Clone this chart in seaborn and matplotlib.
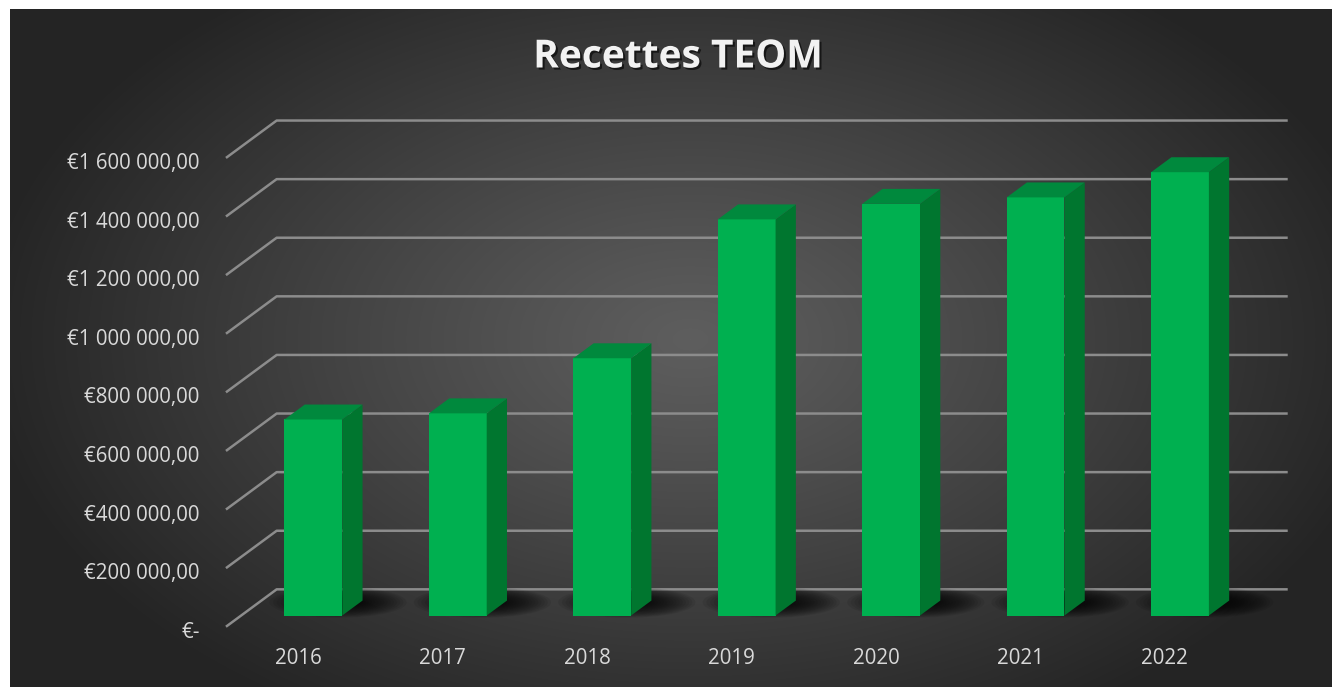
import numpy as np
import pandas as pd
import matplotlib
matplotlib.use("Agg")
import matplotlib.pyplot as plt
import matplotlib.patheffects as pe
from matplotlib.patches import Polygon, Ellipse
import seaborn as sns

# data
years = ["2016", "2017", "2018", "2019", "2020", "2021", "2022"]
recettes = [669000, 690000, 878000, 1352000, 1405000, 1427000, 1513000]
y_ticks = [0, 200000, 400000, 600000, 800000, 1000000, 1200000, 1400000, 1600000]

title = "Recettes TEOM"

green_front = "#00b050"
green_top = "#00893d"
green_side = "#00762f"
grid_col = "#8c8c8c"
txt_col = "#d9d9d9"

# oblique 3d projection in data units (depth goes from 0 = front to 1 = back wall)
DX = 0.351        # category units per full depth
DY = 127600.0     # value units per full depth
D_FRONT, D_BACK = 0.3, 0.7   # bar depth span
BAR_W = 0.4


def proj(x, y, d):
    return (x + (d - D_FRONT) * DX, y + (d - D_FRONT) * DY)


sns.set_theme(style="white")
plt.rcParams["font.family"] = ["Open Sans", "DejaVu Sans"]

fig = plt.figure(figsize=(13.32, 6.87), dpi=100)
fig.patch.set_facecolor("white")

# background radial gradient
bg = fig.add_axes([10 / 1332, 0, 1322 / 1332, 678 / 687])
h, w = 678, 1322
yy, xx = np.mgrid[0:h, 0:w]
r = np.sqrt(((xx - 680) / 760.0) ** 2 + ((yy - 330) / 470.0) ** 2)
shade = np.clip(94 - 62 * r ** 1.1, 36, 94) / 255.0
bg.imshow(np.dstack([shade, shade, shade]), aspect="auto", extent=[0, 1, 0, 1])
bg.axis("off")

# main axes: x = category index on the bar front plane, y = value on that plane
ax = fig.add_axes([200 / 1332, 37 / 687, 1110 / 1332, 550 / 687])
df = pd.DataFrame({"annee": years, "recettes": recettes})
sns.barplot(data=df, x="annee", y="recettes", ax=ax, color=green_front,
            saturation=1, width=BAR_W, linewidth=0, errorbar=None)
for p in ax.patches:
    p.set_zorder(4)

n = len(years)

# gridlines: side wall diagonal + back wall
for v in y_ticks:
    pts = [proj(-0.5, v, 0), proj(-0.5, v, 1), proj(n - 0.5, v, 1)]
    ax.plot([p[0] for p in pts], [p[1] for p in pts], color=grid_col, lw=1.8,
            zorder=1, solid_capstyle="butt")

# soft shadows on the floor
for i in range(n):
    cx, cy = i + 0.17, 45000
    for k in range(16):
        s = 1 - k * 0.05
        ax.add_patch(Ellipse((cx + 0.04 * (1 - s), cy), 0.95 * s, 105000 * s,
                             color="black", alpha=0.075, lw=0, zorder=2))

# side and top faces of the bars
for i, v in enumerate(recettes):
    xl, xr = i - BAR_W / 2, i + BAR_W / 2
    side = [proj(xr, 0, D_FRONT), proj(xr, 0, D_BACK), proj(xr, v, D_BACK), proj(xr, v, D_FRONT)]
    top = [proj(xl, v, D_FRONT), proj(xr, v, D_FRONT), proj(xr, v, D_BACK), proj(xl, v, D_BACK)]
    ax.add_patch(Polygon(side, closed=True, color=green_side, lw=0, zorder=4))
    ax.add_patch(Polygon(top, closed=True, color=green_top, lw=0, zorder=4))

# y tick labels
for v in y_ticks:
    if v == 0:
        lab = "€-"
    else:
        lab = "€" + "{:,}".format(v).replace(",", " ") + ",00"
    x0, y0 = proj(-0.5, v, 0)
    ax.annotate(lab, (x0, y0), xytext=(-19, -4), textcoords="offset points",
                ha="right", va="center", color=txt_col, fontsize=14.8)

# category labels
for i, yr in enumerate(years):
    x0, y0 = proj(i, 0, 0)
    ax.annotate(yr, (x0, y0), xytext=(0, -23), textcoords="offset points",
                ha="center", va="center", color=txt_col, fontsize=14.8)

ax.set_xlim(-0.785, 6.900)
ax.set_ylim(-117700, 1759400)
ax.axis("off")

fig.text(0.509, 1 - 57 / 687, title, ha="center", va="center", color="#f2f2f2",
         fontsize=28, fontweight="bold",
         path_effects=[pe.withSimplePatchShadow(offset=(1.5, -1.5), shadow_rgbFace="black", alpha=0.6)])

fig.savefig("out.png", dpi=100, facecolor=fig.get_facecolor())
